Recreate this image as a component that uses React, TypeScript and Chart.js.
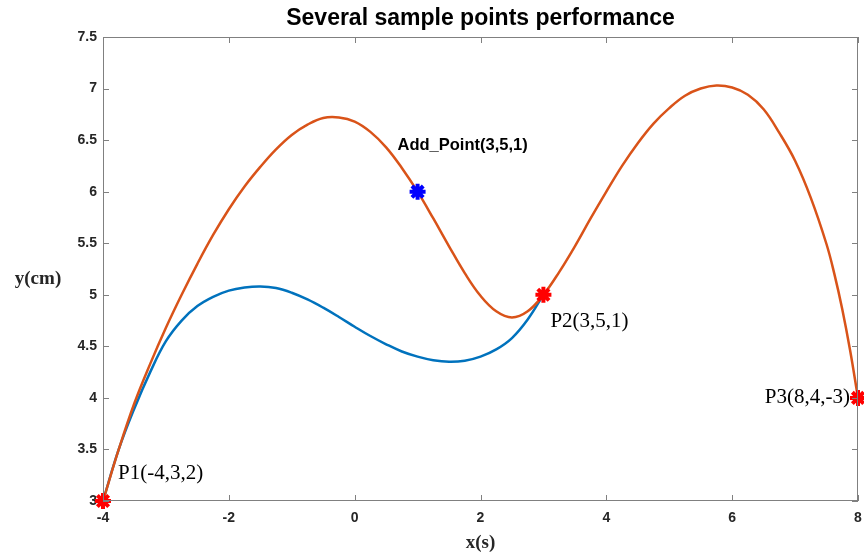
import React, { useEffect, useRef } from "react";
import { Chart, registerables } from "chart.js";

Chart.register(...registerables);

const TITLE = "Several sample points performance";
const X_LABEL = "x(s)";
const Y_LABEL = "y(cm)";
const X_TICKS = [-4, -2, 0, 2, 4, 6, 8];
const Y_TICKS = [3, 3.5, 4, 4.5, 5, 5.5, 6, 6.5, 7, 7.5];

// Original trajectory (blue)
const BLUE_X = [-4, -3.75, -3.5, -3.25, -3, -2.75, -2.5, -2.25, -2, -1.75, -1.5, -1.25, -1, -0.75, -0.5, -0.25, 0, 0.25, 0.5, 0.75, 1, 1.25, 1.5, 1.75, 2, 2.25, 2.5, 2.75, 3];
const BLUE_Y = [3, 3.5, 3.9, 4.25, 4.55, 4.75, 4.89, 4.98, 5.04, 5.07, 5.08, 5.065, 5.02, 4.955, 4.875, 4.785, 4.69, 4.6, 4.52, 4.45, 4.4, 4.365, 4.35, 4.36, 4.4, 4.47, 4.58, 4.76, 5.0];

// Trajectory with added point (orange)
const ORANGE_X = [-4, -3.75, -3.5, -3.25, -3, -2.75, -2.5, -2.25, -2, -1.75, -1.5, -1.25, -1, -0.75, -0.5, -0.25, 0, 0.25, 0.5, 0.75, 1, 1.25, 1.5, 1.75, 2, 2.25, 2.5, 2.75, 3, 3.25, 3.5, 3.75, 4, 4.25, 4.5, 4.75, 5, 5.25, 5.5, 5.75, 6, 6.25, 6.5, 6.75, 7, 7.25, 7.5, 7.625, 7.75, 7.875, 8];
const ORANGE_Y = [3, 3.5, 3.95, 4.33, 4.68, 5.0, 5.3, 5.58, 5.83, 6.05, 6.24, 6.41, 6.55, 6.65, 6.715, 6.72, 6.68, 6.58, 6.43, 6.23, 6.0, 5.74, 5.47, 5.21, 4.99, 4.84, 4.78, 4.84, 5.0, 5.22, 5.47, 5.74, 6.0, 6.25, 6.47, 6.66, 6.81, 6.93, 7.0, 7.03, 7.01, 6.94, 6.8, 6.57, 6.3, 5.94, 5.49, 5.2, 4.86, 4.46, 4.0];

const RED_X = [-4, 3, 8];
const RED_Y = [3, 5, 4];
const BLUE_PT_X = [1];
const BLUE_PT_Y = [6];

const ANNOTATIONS = [
  { text: "P1(-4,3,2)", x: -4, y: 3, dx: 15, dy: -28, align: "left", font: "21px 'Liberation Serif'" },
  { text: "P2(3,5,1)", x: 3, y: 5, dx: 7, dy: 27, align: "left", font: "21px 'Liberation Serif'" },
  { text: "P3(8,4,-3)", x: 8, y: 4, dx: -8, dy: 0, align: "right", font: "21px 'Liberation Serif'" },
  { text: "Add_Point(3,5,1)", x: 1, y: 6, dx: 45, dy: -46, align: "center", font: "bold 16.5px 'Liberation Sans'" },
];

const zip = (xs: number[], ys: number[]) => xs.map((x, i) => ({ x, y: ys[i] }));

const framePlugin = {
  id: "frame",
  afterDatasetsDraw(chart: any) {
    const { ctx, chartArea: a, scales } = chart;
    ctx.save();
    ctx.strokeStyle = "#808080";
    ctx.lineWidth = 1;
    ctx.strokeRect(a.left + 0.5, a.top + 0.5, a.right - a.left - 1, a.bottom - a.top - 1);
    ctx.beginPath();
    const tl = 6;
    X_TICKS.forEach((v) => {
      const px = Math.round(scales.x.getPixelForValue(v)) + 0.5;
      ctx.moveTo(px, a.bottom);
      ctx.lineTo(px, a.bottom - tl);
      ctx.moveTo(px, a.top);
      ctx.lineTo(px, a.top + tl);
    });
    Y_TICKS.forEach((v) => {
      const py = Math.round(scales.y.getPixelForValue(v)) + 0.5;
      ctx.moveTo(a.left, py);
      ctx.lineTo(a.left + tl, py);
      ctx.moveTo(a.right, py);
      ctx.lineTo(a.right - tl, py);
    });
    ctx.stroke();
    ctx.restore();
  },
  afterDraw(chart: any) {
    const { ctx, chartArea: a, scales } = chart;
    ctx.save();
    ctx.fillStyle = "#000";
    ctx.textBaseline = "middle";
    ANNOTATIONS.forEach((an) => {
      ctx.font = an.font;
      ctx.textAlign = an.align;
      ctx.fillText(an.text, scales.x.getPixelForValue(an.x) + an.dx, scales.y.getPixelForValue(an.y) + an.dy);
    });
    ctx.textAlign = "center";
    ctx.font = "bold 23px 'Liberation Sans'";
    ctx.fillText(TITLE, (a.left + a.right) / 2, 19);
    ctx.fillStyle = "#262626";
    ctx.font = "bold 19px 'Liberation Serif'";
    ctx.fillText(X_LABEL, (a.left + a.right) / 2, 543);
    ctx.fillText(Y_LABEL, 38, 279);
    ctx.restore();
  },
};

export default function App() {
  const ref = useRef<HTMLCanvasElement>(null);
  useEffect(() => {
    if (!ref.current) return;
    const tickFont = { family: "'Liberation Sans'", size: 14, weight: "bold" as const };
    const chart = new Chart(ref.current, {
      type: "scatter",
      data: {
        datasets: [
          {
            data: zip(RED_X, RED_Y),
            showLine: false,
            pointStyle: "star",
            pointRadius: 8,
            pointBorderWidth: 4,
            borderColor: "#ff0000",
            backgroundColor: "#ff0000",
          },
          {
            data: zip(BLUE_PT_X, BLUE_PT_Y),
            showLine: false,
            pointStyle: "star",
            pointRadius: 8,
            pointBorderWidth: 4,
            borderColor: "#0000ff",
            backgroundColor: "#0000ff",
          },
          {
            data: zip(ORANGE_X, ORANGE_Y),
            showLine: true,
            borderColor: "#D95319",
            borderWidth: 2.5,
            pointRadius: 0,
            tension: 0.4,
          },
          {
            data: zip(BLUE_X, BLUE_Y),
            showLine: true,
            borderColor: "#0072BD",
            borderWidth: 2.5,
            pointRadius: 0,
            tension: 0.4,
          },
        ],
      },
      options: {
        animation: false,
        responsive: false,
        clip: false as any,
        layout: { autoPadding: false, padding: { left: 0, top: 37, right: 6, bottom: 0 } },
        plugins: { legend: { display: false }, tooltip: { enabled: false }, title: { display: false } },
        scales: {
          x: {
            type: "linear",
            min: -4,
            max: 8,
            afterFit: (s: any) => { s.height = 51; s.paddingLeft = 0; s.paddingRight = 0; },
            afterBuildTicks: (s: any) => { s.ticks = X_TICKS.map((v) => ({ value: v })); },
            ticks: { font: tickFont, color: "#262626", padding: 9, callback: (v: any) => String(v) },
            grid: { display: false, drawTicks: false },
            border: { display: false },
          },
          y: {
            type: "linear",
            min: 3,
            max: 7.5,
            afterFit: (s: any) => { s.width = 103; s.paddingTop = 0; s.paddingBottom = 0; },
            afterBuildTicks: (s: any) => { s.ticks = Y_TICKS.map((v) => ({ value: v })); },
            ticks: { font: tickFont, color: "#262626", padding: 6, callback: (v: any) => String(v) },
            grid: { display: false, drawTicks: false },
            border: { display: false },
          },
        },
      },
      plugins: [framePlugin],
    });
    return () => chart.destroy();
  }, []);
  return (
    <div style={{ position: "absolute", left: 0, top: 0, width: 864, height: 552, background: "#fff" }}>
      <canvas ref={ref} width={864} height={552} />
    </div>
  );
}
